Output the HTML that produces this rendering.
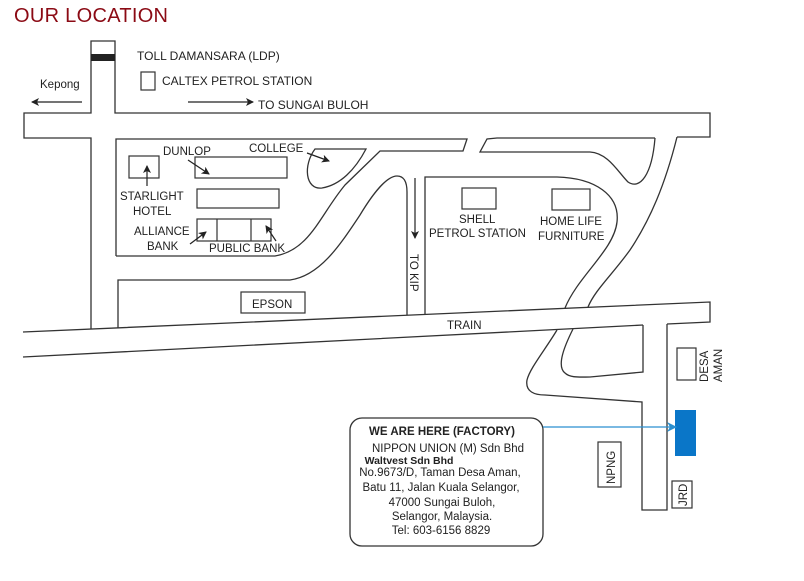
<!DOCTYPE html>
<html><head><meta charset="utf-8"><style>
html,body{margin:0;padding:0;background:#fff;}
svg{display:block;}
text{font-family:"Liberation Sans",Arial,sans-serif;fill:#222;}
</style></head><body>
<svg width="804" height="581" viewBox="0 0 804 581" xmlns="http://www.w3.org/2000/svg">
<defs>
<marker id="ah" markerWidth="8" markerHeight="8" refX="7" refY="4" orient="auto" markerUnits="userSpaceOnUse">
<path d="M0,0 L8,4 L0,8 L2,4 Z" fill="#222"/></marker>
<marker id="bh" markerWidth="10" markerHeight="10" refX="9" refY="5" orient="auto" markerUnits="userSpaceOnUse">
<path d="M0,0 L10,5 L0,10 L3,5 Z" fill="#2a8fd0"/></marker>
</defs>
<text x="14" y="22" font-size="20" textLength="154" style="fill:#8b0a14">OUR LOCATION</text>

<g fill="none" stroke="#333" stroke-width="1.3">
<path d="M91,329 L91,138 L24,138 L24,113 L91,113 L91,41 L115,41 L115,113 L710,113 L710,137 L677,137"/>
<rect x="91" y="54" width="24" height="7" fill="#222" stroke="none"/>
<path d="M655,138 L497,138 L487,139 L480,152 L590,152 C608,153 618,172 628,182 C640,190 652,175 655,138"/>
<path d="M116,256 L116,139 L467,139 L463,151 L380,151 L345,185 C320,215 310,250 275,256 L116,256"/>
<path d="M118,328 L118,280 L290,280 C320,276 340,245 360,215 C375,190 388,176 397,176 C404,176 407,182 407,192 L407,315"/>
<path d="M425,314 L425,177 L557,177 C595,178 620,195 617,222 C614,250 578,276 565,308"/>
<path d="M677,137 C665,185 650,220 630,250 C612,275 595,290 588,307"/>
<path d="M315,149 L366,149 C355,170 340,185 322,188 C305,190 303,165 315,149 Z"/>
<path d="M23,332 L710,302 L710,322 L667,324 M643,325 L23,357 Z"/>
<path d="M557,330 C545,350 530,368 527,380 C525,392 535,395 545,395 L642,402 L642,510 L667,510 L667,324"/>
<path d="M573,329 C565,345 556,366 565,373 C570,378 580,377 590,377 L643,372 L643,325"/>
</g>

<g fill="none" stroke="#333" stroke-width="1.2">
<rect x="141" y="72" width="14" height="18"/>
<rect x="129" y="156" width="30" height="22"/>
<rect x="195" y="157" width="92" height="21"/>
<rect x="197" y="189" width="82" height="19"/>
<rect x="197" y="219" width="74" height="22"/>
<line x1="217" y1="219" x2="217" y2="241"/>
<line x1="251" y1="219" x2="251" y2="241"/>
<rect x="241" y="292" width="64" height="21"/>
<rect x="462" y="188" width="34" height="21"/>
<rect x="552" y="189" width="38" height="21"/>
<rect x="677" y="348" width="19" height="32"/>
<rect x="598" y="442" width="23" height="45"/>
<rect x="672" y="481" width="20" height="27"/>
</g>
<rect x="675" y="410" width="21" height="46" fill="#0a76c8"/>

<g stroke="#222" stroke-width="1.2" fill="none">
<line x1="82" y1="102" x2="32" y2="102" marker-end="url(#ah)"/>
<line x1="188" y1="102" x2="253" y2="102" marker-end="url(#ah)"/>
<line x1="188" y1="160" x2="209" y2="174" marker-end="url(#ah)"/>
<line x1="307" y1="153" x2="329" y2="161" marker-end="url(#ah)"/>
<line x1="147" y1="186" x2="147" y2="166" marker-end="url(#ah)"/>
<line x1="190" y1="244" x2="206" y2="232" marker-end="url(#ah)"/>
<line x1="276" y1="241" x2="266" y2="226" marker-end="url(#ah)"/>
<line x1="415" y1="178" x2="415" y2="238" marker-end="url(#ah)"/>
</g>

<g font-size="12">
<text x="137" y="60">TOLL DAMANSARA (LDP)</text>
<text x="162" y="85">CALTEX PETROL STATION</text>
<text x="40" y="88" font-size="11.5">Kepong</text>
<text x="258" y="109">TO SUNGAI BULOH</text>
<text x="163" y="155" font-size="11.5">DUNLOP</text>
<text x="249" y="152" font-size="11.5">COLLEGE</text>
<text x="120" y="200" font-size="11.5">STARLIGHT</text>
<text x="133" y="215" font-size="11.5">HOTEL</text>
<text x="134" y="235" font-size="11.5">ALLIANCE</text>
<text x="147" y="250" font-size="11.5">BANK</text>
<text x="209" y="252" font-size="11.5">PUBLIC BANK</text>
<text x="252" y="308" font-size="11.5">EPSON</text>
<text x="459" y="223" font-size="11.5">SHELL</text>
<text x="429" y="237" font-size="11.5">PETROL STATION</text>
<text x="540" y="225" font-size="11.5">HOME LIFE</text>
<text x="538" y="240" font-size="11.5">FURNITURE</text>
<text x="447" y="329" font-size="11.5">TRAIN</text>
<text transform="translate(410,254) rotate(90)" font-size="11.5">TO KIP</text>
<text transform="translate(615,484) rotate(-90)" font-size="11.5">NPNG</text>
<text transform="translate(687,506) rotate(-90)" font-size="11.5">JRD</text>
<text transform="translate(708,382) rotate(-90)" font-size="11.5">DESA</text>
<text transform="translate(722,382) rotate(-90)" font-size="11.5">AMAN</text>
</g>

<rect x="350" y="418" width="193" height="128" rx="12" fill="#fff" stroke="#333" stroke-width="1.3"/>
<line x1="543" y1="427" x2="676" y2="427" stroke="#2a8fd0" stroke-width="1.2" marker-end="url(#bh)"/>
<g font-size="11.5" text-anchor="middle">
<text x="442" y="435" font-weight="bold">WE ARE HERE (FACTORY)</text>
<text x="448" y="452">NIPPON UNION (M) Sdn Bhd</text>
<text x="409" y="464" font-size="10.5" font-weight="bold">Waltvest Sdn Bhd</text>
<text x="440" y="476">No.9673/D, Taman Desa Aman,</text>
<text x="441" y="491">Batu 11, Jalan Kuala Selangor,</text>
<text x="442" y="506">47000 Sungai Buloh,</text>
<text x="442" y="520">Selangor, Malaysia.</text>
<text x="441" y="534">Tel: 603-6156 8829</text>
</g>
</svg>
</body></html>
